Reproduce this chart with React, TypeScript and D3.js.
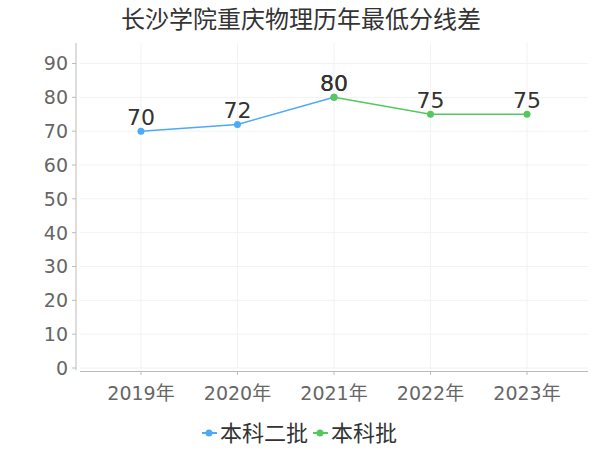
import React from "react";
import * as d3 from "d3";

const categories = ["2019年", "2020年", "2021年", "2022年", "2023年"];
const seriesNames = ["本科二批", "本科批"];
const seriesA: (number | null)[] = [70, 72, 80, null, null];
const seriesB: (number | null)[] = [null, null, 80, 75, 75];
const yTicks = [0, 10, 20, 30, 40, 50, 60, 70, 80, 90];
const title = "长沙学院重庆物理历年最低分线差";

const colors = ["#4ea9f7", "#55c75f"];
const FONT = "'DejaVu Sans', 'Noto Sans CJK SC', sans-serif";
const CJK = "'Noto Sans CJK SC', sans-serif";

export default function App() {
  const W = 600, H = 450;
  const left = 80, right = 588, top = 43, bottom = 369;
  const x = d3.scalePoint<string>().domain(categories).range([left, right]).padding(0.632);
  const y = d3.scaleLinear().domain([0, 90]).range([368, 63.5]);
  const line = d3.line<[string, number | null]>()
    .defined(d => d[1] !== null)
    .x(d => x(d[0]) as number)
    .y(d => y(d[1] as number));
  const series = [seriesA, seriesB];

  return (
    <svg width={W} height={H} style={{ position: "absolute", left: 0, top: 0 }}>
      <rect width={W} height={H} fill="#fff" />
      <text x={301} y={28} textAnchor="middle" fontFamily={CJK} fontSize={24} fill="#333">{title}</text>
      {yTicks.map(t => (
        <line key={"gy" + t} x1={left} x2={right} y1={y(t)} y2={y(t)} stroke="#f2f2f2" strokeWidth={1} />
      ))}
      {categories.map(c => (
        <line key={"gx" + c} x1={x(c)} x2={x(c)} y1={top} y2={bottom} stroke="#f2f2f2" strokeWidth={1} />
      ))}
      <line x1={76} x2={76} y1={top} y2={370} stroke="#bbb" strokeWidth={1} />
      <line x1={left} x2={right} y1={371.5} y2={371.5} stroke="#bbb" strokeWidth={1} />
      {yTicks.map(t => (
        <g key={"ty" + t}>
          <line x1={72} x2={76} y1={y(t)} y2={y(t)} stroke="#bbb" />
          <text x={68} y={y(t)} dy="0.36em" textAnchor="end" fontFamily={FONT} fontSize={19} fill="#666">{t}</text>
        </g>
      ))}
      {categories.map(c => (
        <g key={"tx" + c}>
          <line x1={x(c)} x2={x(c)} y1={371.5} y2={375} stroke="#bbb" />
          <text x={x(c)} y={400} textAnchor="middle" fontFamily={FONT} fontSize={19} fill="#666">{c}</text>
        </g>
      ))}
      {series.map((s, i) => {
        const pts = categories.map((c, j) => [c, s[j]] as [string, number | null]);
        return (
          <g key={"s" + i}>
            <path d={line(pts) || ""} fill="none" stroke={colors[i]} strokeWidth={1.5} />
            {pts.filter(p => p[1] !== null).map(p => (
              <g key={p[0]}>
                <circle cx={x(p[0])} cy={y(p[1] as number)} r={3.5} fill={colors[i]} />
                <text x={x(p[0])} y={y(p[1] as number) - 6} textAnchor="middle" fontFamily={FONT} fontSize={22} fill="#333">{p[1]}</text>
              </g>
            ))}
          </g>
        );
      })}
      {seriesNames.map((n, i) => {
        const lx = i === 0 ? 202 : 313;
        return (
          <g key={"lg" + i}>
            <line x1={lx} x2={lx + 15} y1={433} y2={433} stroke={colors[i]} strokeWidth={2} />
            <circle cx={lx + 7} cy={433} r={3.5} fill={colors[i]} />
            <text x={lx + 18} y={433} dy="0.36em" fontFamily={CJK} fontSize={22} fill="#333">{n}</text>
          </g>
        );
      })}
    </svg>
  );
}
